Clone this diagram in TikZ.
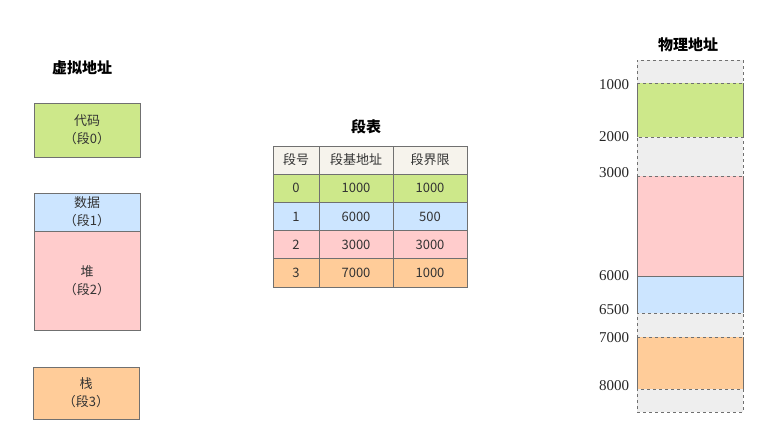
\documentclass[tikz,border=0pt]{standalone}
\usepackage{fontspec}
\setmainfont{Liberation Serif}
\newfontfamily\cjk{Noto Sans CJK SC}
\usepackage{xcolor}
\usetikzlibrary{positioning}
\definecolor{codegreen}{HTML}{CDE88A}
\definecolor{datablue}{HTML}{CCE5FF}
\definecolor{heappink}{HTML}{FFCCCC}
\definecolor{stackorange}{HTML}{FFCC99}
\definecolor{freegray}{HTML}{EEEEEE}
\definecolor{headcream}{HTML}{F6F3EC}
\definecolor{edgegray}{HTML}{707070}

\begin{document}
\begin{tikzpicture}[
    x=1pt, y=-1pt,
    every node/.style={font=\cjk\fontsize{13}{18}\selectfont, align=center, inner sep=0pt, outer sep=0pt, text=black!80},
    titletext/.style={font=\cjk\bfseries\fontsize{15}{17}\selectfont, text=black},
    segbox/.style={draw=edgegray, fill=#1, line width=0.8pt, minimum width=106pt},
    cell/.style={draw=edgegray, fill=#1, line width=0.8pt, minimum height=28.2pt},
    memfill/.style={fill=#1, minimum width=106pt},
    freebox/.style={draw=edgegray, dashed, fill=freegray, line width=0.8pt, minimum width=106pt},
    memside/.style={draw=edgegray, line width=0.8pt},
    addr/.style={anchor=east, font=\fontsize{15}{16}\selectfont, text=black!85}
]
    \useasboundingbox (0,0) rectangle (781,447);

    % Virtual address space
    \node[titletext] (vtitle) at (82, 68) {虚拟地址};
    \node[segbox=codegreen, minimum height=54pt] (vcode) at (87, 130) {代码\\（段0）};
    \node[segbox=datablue, minimum height=38pt] (vdata) at (87, 212) {数据\\（段1）};
    \node[segbox=heappink, minimum height=99pt] (vheap) at (87, 280.5) {堆\\（段2）};
    \node[segbox=stackorange, minimum height=52pt] (vstack) at (86, 393) {栈\\（段3）};

    % Segment table
    \node[titletext] (ttitle) at (366, 127) {段表};
    \node[cell=headcream, minimum width=46pt] (h0) at (296, 160) {段号};
    \node[cell=headcream, minimum width=74pt] (h1) at (356, 160) {段基地址};
    \node[cell=headcream, minimum width=74pt] (h2) at (430, 160) {段界限};

    \node[cell=codegreen, minimum width=46pt] (r00) at (296, 188.2) {0};
    \node[cell=codegreen, minimum width=74pt] (r01) at (356, 188.2) {1000};
    \node[cell=codegreen, minimum width=74pt] (r02) at (430, 188.2) {1000};

    \node[cell=datablue, minimum width=46pt] (r10) at (296, 216.4) {1};
    \node[cell=datablue, minimum width=74pt] (r11) at (356, 216.4) {6000};
    \node[cell=datablue, minimum width=74pt] (r12) at (430, 216.4) {500};

    \node[cell=heappink, minimum width=46pt] (r20) at (296, 244.6) {2};
    \node[cell=heappink, minimum width=74pt] (r21) at (356, 244.6) {3000};
    \node[cell=heappink, minimum width=74pt] (r22) at (430, 244.6) {3000};

    \node[cell=stackorange, minimum width=46pt] (r30) at (296, 272.8) {3};
    \node[cell=stackorange, minimum width=74pt] (r31) at (356, 272.8) {7000};
    \node[cell=stackorange, minimum width=74pt] (r32) at (430, 272.8) {1000};

    % Physical memory
    \node[titletext] (ptitle) at (688, 45) {物理地址};
    \node[memfill=codegreen, minimum height=54pt] (pcode) at (690, 110) {};
    \node[memfill=heappink, minimum height=100pt] (pheap) at (690, 226) {};
    \node[memfill=datablue, minimum height=37pt] (pdata) at (690, 294.5) {};
    \node[memfill=stackorange, minimum height=52pt] (pstack) at (690, 363) {};

    \node[freebox, minimum height=23pt] (free0) at (690, 71.5) {};
    \node[freebox, minimum height=39pt] (free1) at (690, 156.5) {};
    \node[freebox, minimum height=24pt] (free2) at (690, 325) {};
    \node[freebox, minimum height=23pt] (free3) at (690, 400.5) {};

    \draw[memside] (pcode.north west) -- (pcode.south west) (pcode.north east) -- (pcode.south east);
    \draw[memside] (pheap.north west) -- (pdata.south west) (pheap.north east) -- (pdata.south east);
    \draw[memside] (pdata.north west) -- (pdata.north east);
    \draw[memside] (pstack.north west) -- (pstack.south west) (pstack.north east) -- (pstack.south east);

    % Address marks
    \node[addr] (a1000) at (629, 85) {1000};
    \node[addr] (a2000) at (629, 137) {2000};
    \node[addr] (a3000) at (629, 173) {3000};
    \node[addr] (a6000) at (629, 276) {6000};
    \node[addr] (a6500) at (629, 310) {6500};
    \node[addr] (a7000) at (629, 338) {7000};
    \node[addr] (a8000) at (629, 386) {8000};
\end{tikzpicture}
\end{document}
